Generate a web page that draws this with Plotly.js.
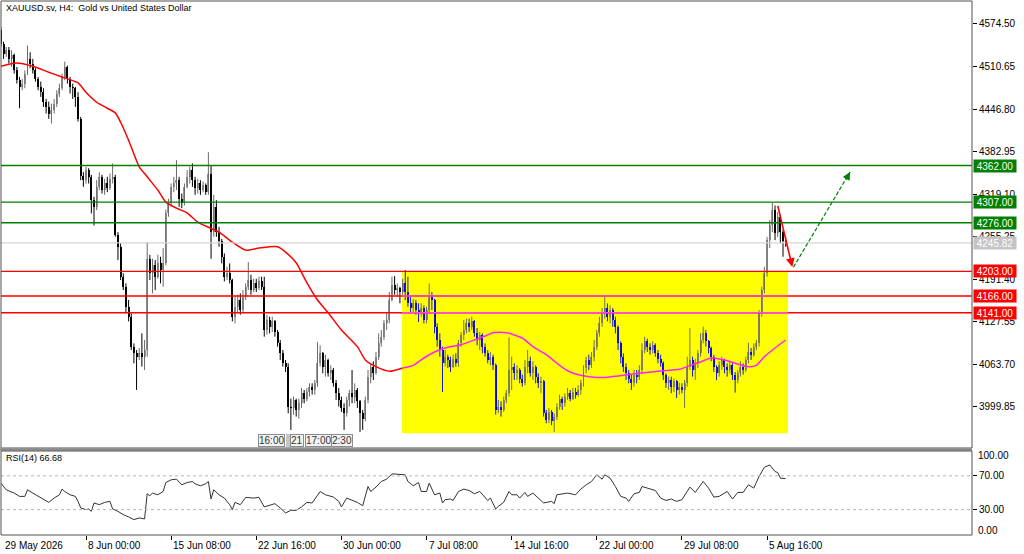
<!DOCTYPE html>
<html><head><meta charset="utf-8">
<script src="https://cdn.plot.ly/plotly-3.0.1.min.js"></script>
<style>html,body{margin:0;padding:0;background:#fff}#chart{width:1024px;height:554px}</style>
</head><body><div id="chart"></div>
<script>
// ---------- DATA (H4 bars, index 0 = first bar on screen) ----------
const barOpen=[4566,4545,4530,4535,4522,4528,4505,4490,4480,4485,
4500,4522,4515,4505,4492,4480,4472,4458,4450,4440,
4445,4455,4470,4478,4495,4510,4492,4480,4478,4465,
4432,4346,4340,4355,4345,4310,4300,4330,4345,4325,
4335,4328,4342,4345,4258,4240,4195,4180,4150,4135,
4090,4080,4075,4080,4075,4085,4222,4200,4212,4195,
4215,4205,4215,4290,4305,4330,4335,4340,4312,4305,
4330,4345,4355,4340,4328,4335,4325,4332,4322,4350,
4262,4300,4262,4248,4225,4195,4200,4190,4135,4150,
4160,4145,4165,4180,4190,4175,4185,4178,4188,4180,
4115,4130,4120,4128,4112,4095,4080,4065,4060,4000,
3998,4010,3995,4005,4020,4012,4022,4030,4025,4035,
4065,4080,4060,4070,4050,4055,4035,4020,4010,3998,
3990,4010,4020,4015,4025,4008,3990,3982,4010,4045,
4060,4050,4075,4095,4105,4125,4130,4160,4182,4175,
4178,4172,4185,4172,4155,4148,4155,4145,4140,4148,
4130,4145,4168,4160,4120,4100,4085,4065,4075,4070,
4060,4072,4065,4095,4108,4115,4125,4120,4128,4110,
4100,4108,4090,4080,4070,4075,4062,3995,4000,3995,
4010,4020,4055,4060,4050,4055,4042,4035,4060,4068,
4050,4060,4045,4035,4038,3990,3980,3992,3978,3985,
4000,4012,4005,4015,4020,4012,4022,4018,4025,4035,
4058,4070,4062,4075,4090,4110,4125,4140,4148,4135,
4145,4130,4120,4095,4075,4060,4050,4042,4035,4048,
4045,4055,4085,4098,4090,4085,4092,4080,4072,4065,
4048,4035,4040,4030,4038,4025,4030,4025,4035,4060,
4070,4055,4065,4080,4100,4110,4098,4088,4075,4060,
4050,4062,4070,4060,4055,4062,4048,4040,4050,4060,
4055,4070,4082,4078,4090,4095,4140,4175,4200,4250,
4272,4295,4260,4285,4262,4248];
const barHigh=[4570,4548,4540,4540,4535,4530,4510,4495,4492,4505,
4542,4532,4522,4508,4495,4488,4478,4462,4458,4455,
4462,4475,4485,4500,4518,4512,4495,4485,4480,4472,
4435,4352,4360,4358,4348,4315,4340,4352,4348,4342,
4345,4350,4365,4348,4262,4245,4200,4185,4160,4140,
4095,4085,4088,4110,4100,4247,4228,4222,4220,4228,
4225,4238,4296,4312,4335,4345,4370,4345,4320,4335,
4355,4360,4365,4345,4342,4340,4338,4335,4382,4362,
4318,4310,4270,4252,4230,4210,4215,4192,4165,4168,
4170,4175,4185,4217,4198,4192,4192,4195,4195,4195,
4138,4135,4135,4130,4115,4100,4085,4070,4065,4012,
4015,4012,4012,4028,4025,4028,4035,4035,4040,4097,
4092,4082,4078,4072,4062,4058,4040,4028,4015,4005,
4015,4025,4055,4035,4028,4010,3995,4015,4055,4065,
4068,4082,4110,4115,4130,4140,4172,4195,4196,4185,
4180,4192,4205,4195,4165,4162,4160,4155,4155,4152,
4150,4185,4172,4162,4125,4110,4090,4085,4078,4075,
4078,4080,4100,4112,4130,4132,4132,4135,4130,4118,
4112,4110,4095,4085,4082,4078,4065,4010,4008,4015,
4025,4104,4075,4065,4062,4058,4048,4070,4085,4075,
4068,4062,4050,4045,4040,3995,3998,3995,3990,4005,
4018,4015,4020,4028,4025,4028,4028,4032,4040,4062,
4075,4078,4082,4100,4115,4135,4148,4167,4155,4152,
4148,4135,4122,4098,4080,4065,4055,4048,4055,4055,
4062,4095,4105,4102,4095,4098,4095,4085,4078,4068,
4050,4045,4045,4042,4040,4036,4035,4040,4075,4118,
4075,4072,4085,4110,4120,4115,4100,4090,4078,4062,
4068,4075,4072,4065,4068,4065,4052,4055,4068,4065,
4075,4096,4088,4095,4100,4145,4180,4210,4255,4280,
4306,4302,4292,4288,4265,4256];
const barLow=[4540,4522,4525,4515,4510,4500,4485,4448,4475,4478,
4498,4508,4500,4488,4475,4465,4450,4440,4432,4425,
4440,4450,4465,4475,4490,4485,4470,4462,4450,4428,
4340,4330,4335,4335,4290,4272,4295,4325,4320,4318,
4322,4325,4335,4255,4220,4190,4175,4140,4128,4085,
4065,4025,4070,4060,4055,4075,4190,4170,4175,4192,
4185,4180,4212,4285,4300,4322,4325,4300,4298,4302,
4328,4335,4330,4318,4320,4318,4322,4318,4318,4222,
4255,4255,4240,4215,4188,4190,4185,4128,4125,4140,
4138,4140,4160,4175,4168,4172,4172,4175,4175,4105,
4108,4110,4112,4105,4090,4070,4060,4052,3990,3965,
3988,3985,3982,3998,4005,4008,4015,4018,4018,4030,
4060,4050,4045,4045,4040,4030,4010,4000,3992,3965,
3985,4000,4005,4005,3998,3962,3965,3978,4005,4035,
4040,4048,4070,4090,4100,4115,4125,4158,4168,4165,
4155,4168,4160,4150,4140,4142,4138,4127,4135,4125,
4125,4140,4145,4110,4090,4075,4022,4060,4058,4052,
4058,4060,4060,4090,4100,4110,4112,4115,4105,4092,
4085,4080,4075,4065,4062,4055,3988,3990,3985,3992,
4005,4015,4025,4040,4040,4035,4030,4032,4050,4045,
4040,4035,4028,4020,3985,3975,3975,3972,3962,3980,
3995,3995,4000,4010,4008,4010,4012,4015,4018,4030,
4050,4055,4058,4068,4085,4105,4120,4132,4128,4125,
4120,4110,4085,4065,4052,4040,4035,4025,4030,4035,
4040,4050,4080,4082,4078,4080,4075,4065,4060,4040,
4028,4025,4020,4022,4013,4018,4020,3998,4030,4055,
4045,4040,4058,4075,4095,4090,4080,4068,4052,4040,
4045,4055,4050,4045,4050,4040,4021,4035,4045,4048,
4052,4065,4070,4075,4085,4090,4135,4170,4195,4238,
4262,4250,4255,4245,4225,4240];
const barClose=[4545,4530,4535,4522,4528,4505,4490,4480,4485,4500,
4522,4515,4505,4492,4480,4472,4458,4450,4440,4445,
4455,4470,4478,4495,4510,4492,4480,4478,4465,4432,
4346,4340,4355,4345,4310,4300,4330,4345,4325,4335,
4328,4342,4345,4258,4240,4195,4180,4150,4135,4090,
4080,4075,4080,4075,4085,4222,4200,4212,4195,4215,
4205,4215,4290,4305,4330,4335,4340,4312,4305,4330,
4345,4355,4340,4328,4335,4325,4332,4322,4350,4262,
4300,4262,4248,4225,4195,4200,4190,4135,4150,4160,
4145,4165,4180,4190,4175,4185,4178,4188,4180,4115,
4130,4120,4128,4112,4095,4080,4065,4060,4000,3998,
4010,3995,4005,4020,4012,4022,4030,4025,4035,4065,
4080,4060,4070,4050,4055,4035,4020,4010,3998,3990,
4010,4020,4015,4025,4008,3990,3982,4010,4045,4060,
4050,4075,4095,4105,4125,4130,4160,4182,4175,4178,
4172,4185,4172,4155,4148,4155,4145,4140,4148,4130,
4145,4168,4160,4120,4100,4085,4065,4075,4070,4060,
4072,4065,4095,4108,4115,4125,4120,4128,4110,4100,
4108,4090,4080,4070,4075,4062,3995,4000,3995,4010,
4020,4055,4060,4050,4055,4042,4035,4060,4068,4050,
4060,4045,4035,4038,3990,3980,3992,3978,3985,4000,
4012,4005,4015,4020,4012,4022,4018,4025,4035,4058,
4070,4062,4075,4090,4110,4125,4140,4148,4135,4145,
4130,4120,4095,4075,4060,4050,4042,4035,4048,4045,
4055,4085,4098,4090,4085,4092,4080,4072,4065,4048,
4035,4040,4030,4038,4025,4030,4025,4035,4060,4070,
4055,4065,4080,4100,4110,4098,4088,4075,4060,4050,
4062,4070,4060,4055,4062,4048,4040,4050,4060,4055,
4070,4082,4078,4090,4095,4140,4175,4200,4250,4272,
4295,4260,4285,4262,4248,4245.82];

// moving average
const maBar=[0,6,12,18,23,29,32,36,40,43,45,48,52,55,59,62,66,70,74,82,87,92,97,104,107,111,115,119,123,128,134,137,141,146,151,155,159,163,167,173,178,182,185,190,196,200,205,210,214,218,223,228,232,240,247,255,258,263,267,272,277,281,284,287,291,295];
const maVal=[4511,4516,4511,4502,4495,4486,4472,4457,4448,4441,4427,4400,4360,4345,4325,4307,4298,4291,4277,4262,4247,4235,4238,4240,4232,4216,4186,4160,4141,4115,4090,4070,4060,4053,4058,4062,4073,4082,4088,4093,4100,4106,4111,4111,4103,4090,4078,4062,4052,4047,4044,4044,4046,4050,4053,4056,4060,4067,4073,4070,4064,4060,4062,4075,4088,4100];

// RSI(14)
const rsiBar=[0,2,5,7,9,10,12,13,15,17,18,20,22,23,24,26,28,29,30,32,33,34,35,37,39,41,42,44,46,48,50,52,54,55,56,57,59,61,62,64,66,68,70,72,73,75,77,78,79,80,82,84,86,87,88,90,92,95,97,99,101,103,105,107,109,111,113,115,117,120,122,125,127,128,130,132,134,136,138,139,141,143,145,147,150,152,153,155,157,158,160,161,163,165,166,167,169,170,172,174,176,178,180,182,183,184,186,187,189,191,192,194,195,197,198,200,202,204,207,208,209,212,213,216,218,220,222,224,226,227,229,231,233,235,236,238,240,241,243,246,248,250,252,254,256,257,259,261,264,266,268,270,273,275,277,279,281,283,285,287,289,291,292,293,295];
const rsiVal=[61.4,53.5,49.6,45.7,45.7,53.5,49.6,47.6,43.7,39.8,38.6,43.7,47.6,54.3,51.5,47.6,45.7,39.8,32,30,30.8,28,37.9,35.9,38.6,39.8,30.8,28,24.1,21.4,18.2,20.2,19,48.8,46.5,49.6,47.6,51.5,62.1,65.3,66.1,59.4,62.1,63.3,60.6,58.2,60.6,63.3,42.6,53.5,47.6,43.7,35.9,30,38.6,35.9,44.5,43.7,44.5,33.2,34.7,37.1,32,26.1,29.2,29.2,33.2,38.6,37.9,51.5,47.6,44.9,39.8,33.2,43.7,40.9,38.6,34.7,57.4,51.5,56.7,63.3,66.1,72.4,71.2,71.2,63.3,58.2,62.1,51.5,51.5,61.4,47.6,49.6,37.9,41.8,42.6,40.9,51.5,54.3,52.7,48.8,51.5,43.7,40.9,43.7,30.8,33.9,38.6,51.5,47.6,47.6,43.7,50.4,45.7,49.6,43.7,37.9,39.8,37.1,47.6,48.8,49.6,47.6,54.3,59.4,63.3,71.2,66.1,71.2,67.3,57.4,45.7,43.7,39.8,48.8,50.4,57.4,55.5,52.7,43.7,40.9,42.6,39.8,41.8,46.5,56.7,50.4,63.3,55.5,44.9,45.7,51.5,42.6,50.4,50.4,59.4,55.5,69.2,80.2,82.9,75.1,73.9,67.3,66.68];

// time axis labels
const timeTickBar=[0,32,64,96,128,160,192,224,256,288];
const timeTickText=['29 May 2026','8 Jun 00:00','15 Jun 08:00','22 Jun 16:00','30 Jun 00:00','7 Jul 08:00','14 Jul 16:00','22 Jul 00:00','29 Jul 08:00','5 Aug 16:00'];
// price axis labels
const priceTicks=[4574.50,4510.65,4446.80,4382.95,4319.10,4255.25,4191.40,4127.55,4063.70,3999.85];
// horizontal levels drawn on chart
const resistLevels=[4362.00,4307.00,4276.00];
const supportLevels=[4203.00,4166.00,4141.00];
const lastPrice=4245.82;
const rsiLast=66.68;
// consolidation rectangle (bar index / price)
const zoneBars=[150.8,295.9];
const zonePrices=[3960,4203];
// drawn arrows (bar index / price)
const redArrow={fromBar:291.9,fromPrice:4303.7,toBar:297.5,toPrice:4209.6};
const greenArrow={fromBar:297.9,fromPrice:4209.2,toBar:319.2,toPrice:4352.2};
const vlineLabels=['16:00','21','17:00','2:30'];

// ---------- LAYOUT HELPERS (pixels -> paper) ----------
const ML=1, MT=1, PW=971, PH=534;
const px=v=>(v-ML)/PW, py=v=>1-(v-MT)/PH;
const FONT='Liberation Sans, Arial, sans-serif';
const X0=0.04, X1=365.04;

// ---------- CANDLES ----------
const groups={
  nBear:{bx:[],bb:[],bh:[],wx:[],wy:[],body:'#000000',wick:'#000000'},
  nBull:{bx:[],bb:[],bh:[],wx:[],wy:[],body:'#9a9a9a',wick:'#6a6a6a'},
  zBear:{bx:[],bb:[],bh:[],wx:[],wy:[],body:'#0000ff',wick:'#1a1acc'},
  zBull:{bx:[],bb:[],bh:[],wx:[],wy:[],body:'#8e8e6a',wick:'#707050'}
};
const zTop=zonePrices[1];
function addBody(g,x,lo,hi){g.bx.push(x);g.bb.push(lo);g.bh.push(Math.max(hi-lo,1.3));}
function addWick(g,x,lo,hi){g.wx.push(x,x,null);g.wy.push(lo,hi,null);}
for(let i=0;i<barClose.length;i++){
  const o=barOpen[i],h=barHigh[i],l=barLow[i],c=barClose[i];
  const bull=c>=o;
  const n=bull?groups.nBull:groups.nBear, z=bull?groups.zBull:groups.zBear;
  const inZone=i>=zoneBars[0]&&i<=zoneBars[1];
  const lo=Math.min(o,c),hi=Math.max(o,c);
  if(!inZone){addWick(n,i,l,h);addBody(n,i,lo,hi);continue;}
  if(l<zTop) addWick(z,i,l,Math.min(h,zTop));
  if(h>zTop) addWick(n,i,Math.max(l,zTop),h);
  if(lo<zTop) addBody(z,i,lo,Math.min(hi,zTop));
  if(hi>zTop) addBody(n,i,Math.max(lo,zTop),hi);
}
const traces=[];
for(const k of ['nBull','nBear','zBull','zBear']){
  const g=groups[k];
  traces.push({type:'scatter',mode:'lines',x:g.wx,y:g.wy,line:{color:g.wick,width:1},hoverinfo:'skip',xaxis:'x',yaxis:'y',connectgaps:false});
}
for(const k of ['nBull','nBear','zBull','zBear']){
  const g=groups[k];
  traces.push({type:'bar',x:g.bx,base:g.bb,y:g.bh,width:0.75,marker:{color:g.body,line:{width:0}},hoverinfo:'skip',xaxis:'x',yaxis:'y'});
}
// moving average: red outside the zone, magenta inside it
const maOutX=[],maOutY=[],maInX=[],maInY=[];
maBar.forEach((b,k)=>{ if(b<=151){maOutX.push(b);maOutY.push(maVal[k]);} if(b>=151){maInX.push(b);maInY.push(maVal[k]);} });
traces.push({type:'scatter',mode:'lines',x:maOutX,y:maOutY,line:{color:'#ff0000',width:1.5,shape:'spline',smoothing:0.6},hoverinfo:'skip',xaxis:'x',yaxis:'y'});
traces.push({type:'scatter',mode:'lines',x:maInX,y:maInY,line:{color:'#ff22ff',width:1.5,shape:'spline',smoothing:0.6},hoverinfo:'skip',xaxis:'x',yaxis:'y'});
// RSI
traces.push({type:'scatter',mode:'lines',x:rsiBar,y:rsiVal,line:{color:'#333333',width:1},hoverinfo:'skip',xaxis:'x',yaxis:'y2'});

// ---------- SHAPES ----------
const shapes=[];
shapes.push({type:'rect',xref:'x',yref:'y',x0:zoneBars[0],x1:zoneBars[1],y0:zonePrices[0],y1:zonePrices[1],fillcolor:'#ffff00',line:{width:0},layer:'below'});
shapes.push({type:'line',xref:'paper',yref:'y',x0:0,x1:1,y0:lastPrice,y1:lastPrice,line:{color:'#d4d4d4',width:1.2},layer:'above'});
resistLevels.forEach(v=>shapes.push({type:'line',xref:'paper',yref:'y',x0:0,x1:1,y0:v,y1:v,line:{color:'#008000',width:1.4},layer:'above'}));
supportLevels.forEach(v=>shapes.push({type:'line',xref:'paper',yref:'y',x0:0,x1:1,y0:v,y1:v,line:{color:'#ff0000',width:1.4},layer:'above'}));
supportLevels.slice(1).forEach(v=>shapes.push({type:'line',xref:'x',yref:'y',x0:zoneBars[0],x1:zoneBars[1],y0:v,y1:v,line:{color:'#ff44ff',width:1.4},layer:'above'}));
// RSI 70/30 dotted
[70,30].forEach(v=>shapes.push({type:'line',xref:'paper',yref:'y2',x0:0,x1:1,y0:v,y1:v,line:{color:'#b4b4b4',width:1,dash:'dot'}}));
// green dashed arrow body
shapes.push({type:'line',xref:'x',yref:'y',x0:greenArrow.fromBar,y0:greenArrow.fromPrice,x1:greenArrow.toBar,y1:greenArrow.toPrice,line:{color:'#008000',width:1.2,dash:'4px,2px'},layer:'above'});
// frames
shapes.push({type:'rect',xref:'paper',yref:'paper',x0:px(1),x1:px(972),y0:py(448),y1:py(1),line:{color:'#505050',width:1},fillcolor:'rgba(0,0,0,0)',layer:'above'});
shapes.push({type:'line',xref:'paper',yref:'paper',x0:px(0),x1:px(972),y0:py(449.5),y1:py(449.5),line:{color:'#8a8a8a',width:2.5},layer:'above'});
shapes.push({type:'rect',xref:'paper',yref:'paper',x0:px(1),x1:px(972),y0:py(535),y1:py(451),line:{color:'#505050',width:1},fillcolor:'rgba(0,0,0,0)',layer:'above'});
// double bars between vline labels
[287,289].forEach(v=>shapes.push({type:'line',xref:'paper',yref:'paper',x0:px(v),x1:px(v),y0:py(434),y1:py(447),line:{color:'#8c8c8c',width:1},layer:'above'}));

// ---------- ANNOTATIONS ----------
const ann=[];
ann.push({xref:'paper',yref:'paper',x:px(4),y:py(8),xanchor:'left',yanchor:'middle',showarrow:false,text:'XAUUSD.sv, H4:\u00a0 Gold vs United States Dollar',font:{family:FONT,size:9,color:'#000'}});
ann.push({xref:'paper',yref:'paper',x:px(4),y:py(458),xanchor:'left',yanchor:'middle',showarrow:false,text:'RSI(14) '+rsiLast.toFixed(2),font:{family:FONT,size:9,color:'#000'}});
function levelLabel(v,bg){ann.push({xref:'paper',yref:'y',x:1,xshift:1,y:v,xanchor:'left',yanchor:'middle',showarrow:false,text:v.toFixed(2),font:{family:FONT,size:10,color:'#ffffff'},bgcolor:bg,width:40,height:10,borderpad:1,align:'center'});}
resistLevels.forEach(v=>levelLabel(v,'#008000'));
levelLabel(lastPrice,'#c4c4c4');
supportLevels.forEach(v=>levelLabel(v,'#ff0000'));
ann.push({xref:'paper',yref:'paper',x:1,xshift:4,y:py(455.5),xanchor:'left',yanchor:'middle',showarrow:false,text:'100.00',font:{family:FONT,size:10,color:'#000'}});
ann.push({xref:'paper',yref:'paper',x:1,xshift:4,y:py(530.5),xanchor:'left',yanchor:'middle',showarrow:false,text:'0.00',font:{family:FONT,size:10,color:'#000'}});
timeTickBar.forEach((b,k)=>ann.push({xref:'x',yref:'paper',x:Math.max(b,X0+0.3),xshift:b<X0+0.3?1:0,y:py(545),xanchor:'left',yanchor:'middle',showarrow:false,text:timeTickText[k],font:{family:FONT,size:10,color:'#000'}}));
const vlCenters=[271,296.5,318.5,341.5];
vlineLabels.forEach((t,k)=>ann.push({xref:'paper',yref:'paper',x:px(vlCenters[k]),y:py(440.5),xanchor:'center',yanchor:'middle',showarrow:false,text:t,font:{family:FONT,size:10,color:'#333'},bgcolor:'#f2f2f2',bordercolor:'#8c8c8c',borderwidth:1,borderpad:0}));
ann.push({xref:'x',yref:'y',x:redArrow.toBar,y:redArrow.toPrice,axref:'x',ayref:'y',ax:redArrow.fromBar,ay:redArrow.fromPrice,text:'',showarrow:true,arrowhead:2,arrowsize:1.1,arrowwidth:1.6,arrowcolor:'#ff0000',standoff:0});
ann.push({xref:'x',yref:'y',x:greenArrow.toBar,y:greenArrow.toPrice,ax:-5,ay:9,text:'',showarrow:true,arrowhead:2,arrowsize:1.2,arrowwidth:1.3,arrowcolor:'#008000',standoff:0});

// ---------- LAYOUT ----------
const layout={
  width:1024,height:554,margin:{l:ML,r:52,t:MT,b:19,pad:0},
  paper_bgcolor:'#ffffff',plot_bgcolor:'#ffffff',showlegend:false,barmode:'overlay',bargap:0,
  xaxis:{range:[X0,X1],anchor:'y2',showgrid:false,zeroline:false,showline:false,tickmode:'array',tickvals:timeTickBar,ticktext:timeTickText,showticklabels:false,ticks:'outside',ticklen:4,tickcolor:'#000'},
  yaxis:{domain:[py(448.5),1],range:[3937.1,4609.0],side:'right',anchor:'x',showgrid:false,zeroline:false,showline:false,tickmode:'array',tickvals:priceTicks,ticktext:priceTicks.map(v=>v.toFixed(2)),ticks:'outside',ticklen:4,tickcolor:'#000',tickfont:{family:FONT,size:10,color:'#000'}},
  yaxis2:{domain:[0,py(450.5)],range:[0,100],side:'right',anchor:'x',showgrid:false,zeroline:false,showline:false,tickmode:'array',tickvals:[70,30],ticktext:['70.00','30.00'],ticks:'outside',ticklen:4,tickcolor:'#000',tickfont:{family:FONT,size:10,color:'#000'}},
  shapes:shapes,annotations:ann
};
Plotly.newPlot('chart',traces,layout,{staticPlot:true,displayModeBar:false});
</script></body></html>
